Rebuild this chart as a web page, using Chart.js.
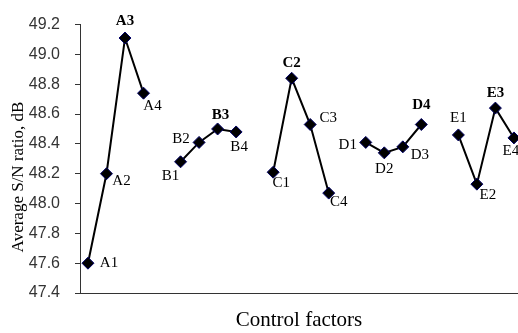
<!DOCTYPE html>
<html>
<head>
<meta charset="utf-8">
<script src="https://cdn.jsdelivr.net/npm/chart.js@4"></script>
<style>
  html, body { margin: 0; padding: 0; background: #fff; }
  #wrap { width: 518px; height: 333px; }
</style>
</head>
<body>
<div id="wrap"><canvas id="chart"></canvas></div>
<script>
// Factor names and their level labels
const factors = ['A', 'B', 'C', 'D', 'E'];
const levels = ['1', '2', '3', '4'];

// Average S/N ratio (dB) for each level of each factor
const valuesA = [47.60, 48.20, 49.11, 48.74];
const valuesB = [48.28, 48.41, 48.50, 48.48];
const valuesC = [48.21, 48.84, 48.53, 48.07];
const valuesD = [48.41, 48.34, 48.38, 48.53];
const valuesE = [48.46, 48.13, 48.64, 48.44];

// Y axis tick values
const yTicks = [47.4, 47.6, 47.8, 48.0, 48.2, 48.4, 48.6, 48.8, 49.0, 49.2];

const allValues = [valuesA, valuesB, valuesC, valuesD, valuesE];

// Label offsets (px) relative to each point, in the same order as the data
const labelOffsets = [
    [[21, 0], [15, 7], [0, -17], [9, 13]],
    [[-10, 14], [-18, -3], [3, -14], [3, 15]],
    [[8, 11], [0, -15], [18, -6], [10, 9]],
    [[-18, 3], [0, 16], [17, 8], [0, -19]],
    [[0, -17], [11, 11], [0, -15], [-3, 13]]
];

// One dataset per factor, each group separated by an empty slot
const datasets = factors.map((f, g) => ({
    label: f,
    data: allValues[g].map((v, i) => ({ x: g * 5 + i, y: v })),
    borderColor: '#000',
    borderWidth: 2,
    pointStyle: 'rectRot',
    pointRadius: 6,
    pointHoverRadius: 6,
    pointBackgroundColor: '#000',
    pointBorderColor: '#000066',
    pointBorderWidth: 1,
    tension: 0,
    clip: false
}));

// Draws the level labels next to points and the rotated y title
const labelPlugin = {
    id: 'levelLabels',
    afterDatasetsDraw(chart) {
        const ctx = chart.ctx;
        ctx.save();
        ctx.fillStyle = '#000';
        ctx.textAlign = 'center';
        ctx.textBaseline = 'middle';
        chart.data.datasets.forEach((ds, g) => {
            const meta = chart.getDatasetMeta(g);
            const maxVal = Math.max(...allValues[g]);
            meta.data.forEach((pt, i) => {
                const bold = allValues[g][i] === maxVal; // optimum level
                ctx.font = (bold ? 'bold ' : '') + '15px "Liberation Serif", "Times New Roman", serif';
                const off = labelOffsets[g][i];
                ctx.fillText(factors[g] + levels[i], pt.x + off[0], pt.y + off[1]);
            });
        });

        // y axis title
        ctx.translate(19, 177);
        ctx.rotate(-Math.PI / 2);
        ctx.font = '17px "Liberation Serif", "Times New Roman", serif';
        ctx.fillText('Average S/N ratio, dB', 0, 0);
        ctx.restore();
    }
};

new Chart(document.getElementById('chart'), {
    type: 'line',
    data: { datasets },
    options: {
        responsive: true,
        maintainAspectRatio: false,
        animation: false,
        layout: { autoPadding: false, padding: { top: 20, right: 0, left: 0, bottom: 0 } },
        plugins: {
            legend: { display: false },
            tooltip: { enabled: false }
        },
        scales: {
            x: {
                type: 'linear',
                min: -0.43,
                max: 23.22,
                afterFit: scale => { scale.height = 40; },
                ticks: { display: false },
                grid: { display: false },
                border: { display: true, color: '#333', width: 1 },
                title: {
                    display: true,
                    text: 'Control factors',
                    color: '#000',
                    padding: 0,
                    font: { family: '"Liberation Serif", "Times New Roman", serif', size: 21 }
                }
            },
            y: {
                min: 47.4,
                max: 49.2,
                afterFit: scale => { scale.width = 80; },
                afterBuildTicks: scale => { scale.ticks = yTicks.map(v => ({ value: v })); },
                ticks: {
                    padding: 15,
                    color: '#333',
                    font: { family: '"Liberation Sans", Arial, sans-serif', size: 16 },
                    callback: v => v.toFixed(1)
                },
                grid: {
                    drawOnChartArea: false,
                    drawTicks: true,
                    tickLength: 5,
                    color: '#333'
                },
                border: { display: true, color: '#333', width: 1 }
            }
        }
    },
    plugins: [labelPlugin]
});
</script>
</body>
</html>
